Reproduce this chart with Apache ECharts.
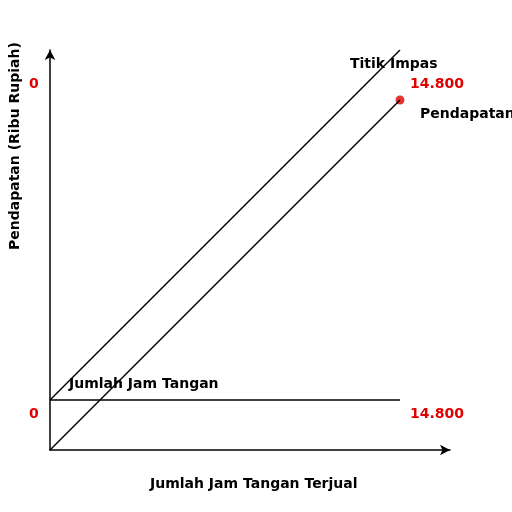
<!DOCTYPE html>
<html>
<head>
<meta charset="utf-8">
<script src="https://cdn.jsdelivr.net/npm/echarts@6/dist/echarts.min.js"></script>
<style>html,body{margin:0;padding:0;background:#fff}#c{width:512px;height:512px}</style>
</head>
<body>
<div id="c"></div>
<script>
// garis-garis skema titik impas
var biayaTetap = [[0, 1], [7, 1]];
var titikImpas = [[0, 1], [7, 8]];
var pendapatan = [[0, 0], [7, 7]];
var titikMerah = [[7, 7]];

var font = 'DejaVu Sans';
var chart = echarts.init(document.getElementById('c'));

function lineSeries(name, data) {
  return {
    name: name,
    type: 'line',
    data: data,
    symbol: 'none',
    animation: false,
    lineStyle: { color: '#000', width: 1.5 }
  };
}

function txt(x, y, s, color, extra) {
  return Object.assign({
    type: 'text', left: x, top: y,
    style: { text: s, fill: color || '#000', font: 'bold 14px ' + font }
  }, extra || {});
}

chart.setOption({
  grid: { left: 50, right: 62, top: 50, bottom: 62 },
  xAxis: {
    type: 'value', min: 0, max: 8,
    axisLine: { lineStyle: { color: '#000', width: 1.5 }, symbol: ['none', 'arrow'], symbolSize: [8, 10] },
    axisTick: { show: false }, axisLabel: { show: false }, splitLine: { show: false }
  },
  yAxis: {
    type: 'value', min: 0, max: 8,
    axisLine: { lineStyle: { color: '#000', width: 1.5 }, symbol: ['none', 'arrow'], symbolSize: [8, 10] },
    axisTick: { show: false }, axisLabel: { show: false }, splitLine: { show: false }
  },
  series: [
    lineSeries('Jumlah Jam Tangan', biayaTetap),
    lineSeries('Titik Impas', titikImpas),
    lineSeries('Pendapatan', pendapatan),
    {
      type: 'scatter', data: titikMerah, symbolSize: 9, animation: false,
      itemStyle: { color: '#e00000' }
    }
  ],
  graphic: [
    txt(350, 57, 'Titik Impas'),
    txt(420, 107, 'Pendapatan'),
    txt(69, 377, 'Jumlah Jam Tangan'),
    txt(150, 477, 'Jumlah Jam Tangan Terjual'),
    txt(29, 77, '0', '#e00000'),
    txt(29, 407, '0', '#e00000'),
    txt(410, 77, '14.800', '#e00000'),
    txt(410, 407, '14.800', '#e00000'),
    {
      type: 'text', x: 8, y: 250, rotation: Math.PI / 2,
      style: { text: 'Pendapatan (Ribu Rupiah)', fill: '#000', font: 'bold 14px ' + font }
    }
  ]
});
</script>
</body>
</html>
